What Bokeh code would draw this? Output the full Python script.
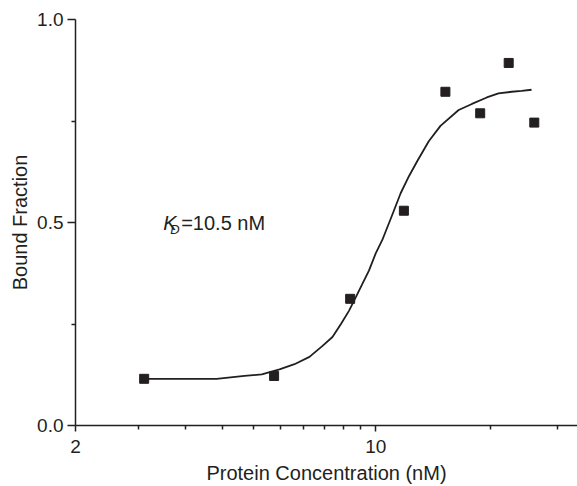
from bokeh.plotting import figure
from bokeh.models import FixedTicker, Label, Range1d
from bokeh.embed import file_html
from bokeh.resources import INLINE

# ---- data ----
conc = [2.89, 5.80, 8.72, 11.63, 14.53, 17.51, 20.4, 23.4]
bound = [0.115, 0.122, 0.312, 0.529, 0.822, 0.769, 0.893, 0.746]

fit_conc = [2.89, 4.26, 4.95, 5.43, 5.97, 6.47, 7.01, 7.52, 7.93, 8.30, 8.67, 8.99,
            9.31, 9.65, 10.0, 10.36, 10.93, 11.43, 11.95, 12.49, 13.29, 14.15,
            15.60, 16.75, 18.14, 19.31, 20.73, 21.86, 23.06]
fit_bound = [0.115, 0.115, 0.122, 0.126, 0.138, 0.151, 0.169, 0.196, 0.218, 0.250,
             0.283, 0.316, 0.349, 0.382, 0.424, 0.457, 0.519, 0.572, 0.614, 0.651,
             0.700, 0.738, 0.777, 0.792, 0.808, 0.818, 0.822, 0.824, 0.827]

x_major = [2, 10]
x_major_labels = ["2", "10"]
x_minor = [2.8, 3.6, 4.4, 5.2, 6.0, 6.8, 7.6, 8.4, 9.2, 18.5, 26.5]
y_major = [0.0, 0.5, 1.0]
y_major_labels = ["0.0", "0.5", "1.0"]
y_minor = [0.25, 0.75]

kd_text = "=10.5 nM"

INK = "#231f20"
FONT = "Liberation Sans"

p = figure(width=577, height=486, x_axis_type="log",
           x_range=Range1d(2, 29.5), y_range=Range1d(0, 1.0),
           output_backend="svg", toolbar_location=None,
           min_border_left=75, min_border_top=19, min_border_right=0,
           min_border_bottom=10)
p.grid.visible = False
p.outline_line_color = None
p.background_fill_color = "white"
p.border_fill_color = "white"

p.line(fit_conc, fit_bound, line_color=INK, line_width=1.8)
p.scatter(conc, bound, marker="square", size=9, fill_color=INK, line_color=INK)

for ax in (p.xaxis[0], p.yaxis[0]):
    ax.axis_line_color = INK
    ax.axis_line_width = 1.5
    ax.major_tick_line_color = INK
    ax.minor_tick_line_color = INK
    ax.major_tick_line_width = 1.5
    ax.minor_tick_line_width = 1.5
    ax.major_tick_in = 0
    ax.minor_tick_in = 0
    ax.minor_tick_out = 4
    ax.major_label_text_font = FONT
    ax.major_label_text_font_size = "19px"
    ax.major_label_text_color = INK
    ax.axis_label_text_font = FONT
    ax.axis_label_text_font_size = "20px"
    ax.axis_label_text_font_style = "normal"
    ax.axis_label_text_color = INK

xa = p.xaxis[0]
xa.ticker = FixedTicker(ticks=x_major, minor_ticks=x_minor)
xa.major_label_overrides = {float(v): s for v, s in zip(x_major, x_major_labels)}
xa.major_tick_out = 6
xa.major_label_standoff = 8
xa.axis_label = "Protein Concentration (nM)"
xa.axis_label_standoff = 6

ya = p.yaxis[0]
ya.ticker = FixedTicker(ticks=y_major, minor_ticks=y_minor)
ya.major_label_overrides = {v: s for v, s in zip(y_major, y_major_labels)}
ya.major_tick_out = 8
ya.major_label_standoff = 4
ya.axis_label = "Bound Fraction"
ya.axis_label_standoff = 3

# K_D annotation
kx, ky = 3.2, 0.50
p.add_layout(Label(x=kx, y=ky, text="K", text_font=FONT, text_font_size="20px",
                   text_font_style="italic", text_color=INK, text_baseline="alphabetic"))
p.add_layout(Label(x=kx, y=ky, x_offset=7, y_offset=-7, text="D", text_font=FONT,
                   text_font_size="13px", text_font_style="italic", text_color=INK,
                   text_baseline="alphabetic"))
p.add_layout(Label(x=kx, y=ky, x_offset=18, text=kd_text, text_font=FONT,
                   text_font_size="20px", text_color=INK, text_baseline="alphabetic"))

open("out.html", "w").write(file_html(p, INLINE))
